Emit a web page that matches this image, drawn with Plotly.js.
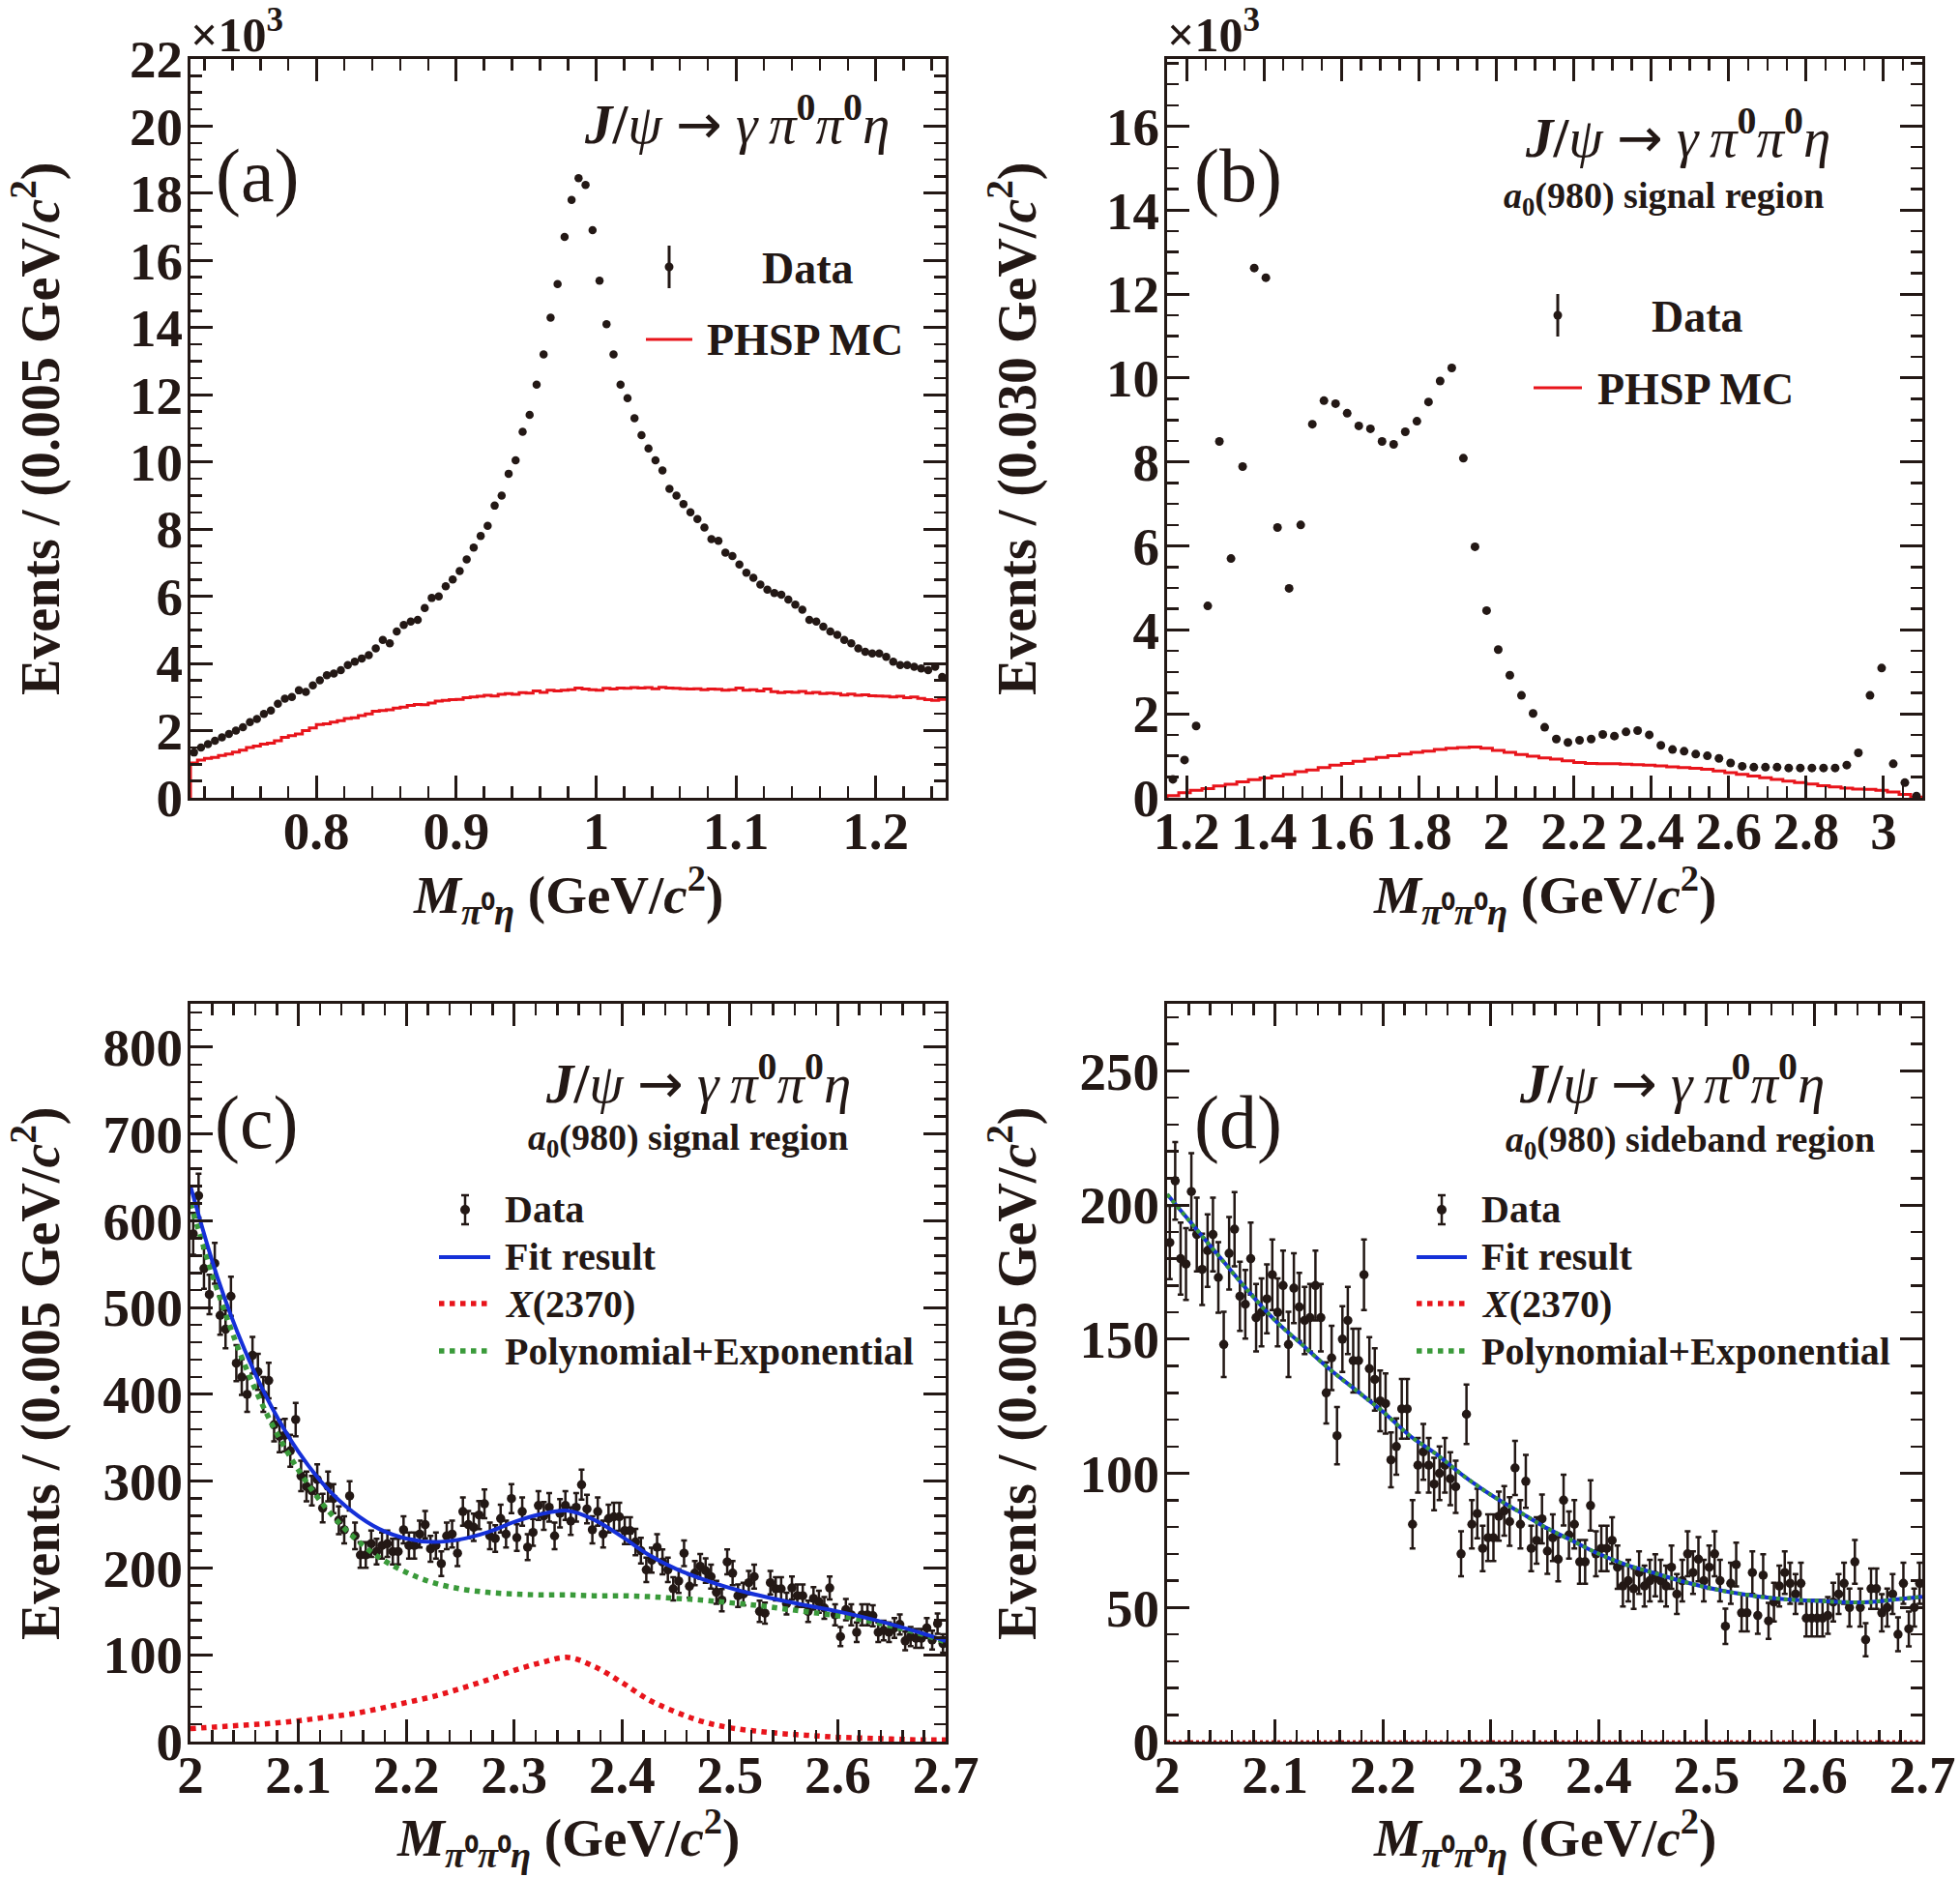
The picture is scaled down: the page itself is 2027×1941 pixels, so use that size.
<!DOCTYPE html>
<html><head><meta charset="utf-8">
<script src="https://cdn.plot.ly/plotly-3.0.1.min.js"></script>
<style>html,body{margin:0;padding:0;background:#fff}</style>
</head><body>
<div id="chart" style="width:2027px;height:1941px"></div>
<script>
// ---------------- DATA ----------------
// (a) M(pi0 eta), bins of 0.005 GeV starting at 0.71 ; values in units of 10^3
const aBinLo = 0.71, aBinW = 0.005;
const aData = [1.35,1.5,1.6,1.7,1.8,1.9,2.0,2.1,2.25,2.35,2.5,2.6,2.8,2.95,3.0,3.2,3.15,3.35,3.5,3.65,
  3.7,3.8,3.95,4.05,4.15,4.25,4.45,4.7,4.6,4.95,5.15,5.25,5.3,5.65,5.95,6.0,6.3,6.5,6.75,7.1,
  7.45,7.8,8.1,8.7,9.0,9.65,10.05,10.9,11.4,12.3,13.2,14.3,15.3,16.7,17.8,
  18.45,18.25,16.9,15.4,14.1,13.2,12.3,11.9,11.3,10.8,10.4,10.05,9.75,9.2,9.0,8.75,8.5,8.3,8.05,7.7,
  7.65,7.3,7.2,6.95,6.7,6.55,6.35,6.2,6.1,6.05,5.9,5.75,5.6,5.3,5.25,5.1,4.95,4.85,4.7,4.6,
  4.45,4.35,4.3,4.3,4.2,4.05,3.95,3.95,3.9,3.85,3.8,3.9,3.6];
const aPhsp = [1.04,1.12,1.17,1.2,1.26,1.3,1.36,1.42,1.5,1.54,1.6,1.63,1.7,1.8,1.85,1.9,2.0,2.08,2.18,2.2,
  2.25,2.3,2.36,2.38,2.45,2.5,2.58,2.6,2.62,2.67,2.7,2.75,2.78,2.77,2.82,2.88,2.9,2.92,2.93,2.98,
  3.0,3.02,3.05,3.03,3.08,3.1,3.08,3.13,3.12,3.18,3.14,3.2,3.18,3.2,3.22,3.27,3.24,3.22,3.2,3.26,
  3.24,3.27,3.26,3.28,3.27,3.28,3.25,3.29,3.27,3.26,3.25,3.24,3.25,3.22,3.24,3.23,3.2,3.22,3.27,3.2,
  3.22,3.18,3.24,3.16,3.13,3.15,3.14,3.17,3.12,3.14,3.1,3.12,3.1,3.06,3.09,3.05,3.07,3.04,3.03,3.02,
  3.0,3.02,2.98,3.0,2.96,2.92,2.9,2.93];
const aXTicks = [0.8,0.9,1.0,1.1,1.2];
const aYTicks = [0,2,4,6,8,10,12,14,16,18,20,22];

// (b) M(pi0 pi0 eta), bins of 0.030 GeV starting at 1.15 ; values in units of 10^3
const bBinLo = 1.15, bBinW = 0.03;
const bData = [0.44,0.9,1.71,4.57,8.49,5.7,7.89,12.62,12.39,6.44,4.99,6.5,8.9,9.46,9.39,9.16,8.86,8.79,8.49,8.42,
  8.72,8.97,9.43,9.93,10.24,8.09,5.98,4.46,3.53,2.92,2.44,2.01,1.68,1.4,1.32,1.37,1.4,1.51,1.47,1.57,
  1.6,1.5,1.25,1.15,1.11,1.04,1.0,0.94,0.83,0.75,0.73,0.73,0.73,0.71,0.71,0.71,0.71,0.71,0.78,1.07,
  2.44,3.09,0.81,0.36,0.04];
const bPhsp = [0.05,0.12,0.18,0.22,0.28,0.32,0.38,0.43,0.47,0.52,0.56,0.62,0.66,0.72,0.78,0.82,0.87,0.92,0.96,1.0,
  1.04,1.08,1.11,1.15,1.18,1.2,1.21,1.18,1.13,1.08,1.03,0.99,0.95,0.92,0.88,0.84,0.82,0.81,0.81,0.8,
  0.79,0.78,0.76,0.74,0.72,0.7,0.68,0.64,0.6,0.56,0.52,0.48,0.44,0.4,0.36,0.33,0.29,0.26,0.23,0.21,
  0.2,0.18,0.14,0.08,0.02];
const bXTicks = [1.2,1.4,1.6,1.8,2.0,2.2,2.4,2.6,2.8,3.0];
const bYTicks = [0,2,4,6,8,10,12,14,16];

// (c) signal region, bins of 0.005 GeV from 2.0
const cBinLo = 2.0, cBinW = 0.005;
const cData = [585,629,545,515,551,491,475,513,436,420,400,445,426,400,416,365,352,353,335,371,
  306,294,289,302,269,294,280,255,244,283,237,215,215,228,219,226,228,219,219,244,
  226,226,239,250,222,226,205,237,239,217,265,250,247,261,274,237,234,257,239,280,
  235,265,224,241,272,260,270,237,263,272,254,270,296,268,244,265,239,257,259,259,
  243,243,230,220,198,209,224,207,198,176,185,217,179,194,202,197,190,172,163,207,
  194,168,170,183,190,150,148,183,176,176,159,177,168,168,150,165,161,154,177,146,
  121,152,146,126,146,146,145,126,128,126,131,135,116,121,119,119,131,117,136,113];
// fit curves sampled every 0.025 GeV from 2.0 to 2.7
const curveX0 = 2.0, curveStep = 0.025;
const cFit = [640,535,452,386,334,294,265,245,234,230,233,241,253,262,266,255,236,215,199,187,177,169,162,156,150,143,135,126,116];
const cSig = [15,17,19,21,24,28,32,38,45,52,61,71,82,91,97,86,68,48,34,23,16,12,9,7,5,4,3,2,2];
const cBkg = [620,520,435,367,313,270,237,212,195,183,176,172,170,169,169,168,168,167,165,163,160,157,153,149,145,140,133,125,115];
const cXTicks = [2.0,2.1,2.2,2.3,2.4,2.5,2.6,2.7];
const cYTicks = [0,100,200,300,400,500,600,700,800];

// (d) sideband region, bins of 0.005 GeV from 2.0
const dData = [186,209,180,178,205,189,176,183,189,173,148,182,191,166,163,180,158,160,165,174,
  160,170,148,169,162,157,158,170,158,130,143,114,150,157,142,142,174,139,135,127,
  126,105,110,124,124,81,103,108,103,96,100,103,98,95,70,122,81,85,72,76,
  76,84,86,82,102,81,97,72,75,83,71,76,68,90,77,81,67,67,88,70,
  72,72,75,65,58,60,57,63,58,60,62,60,58,65,55,60,70,63,68,60,
  65,70,60,43,59,66,48,48,63,47,62,45,52,58,63,59,55,59,46,46,
  46,46,47,52,55,59,50,67,50,38,57,57,48,50,55,40,59,42,50,59];
const dFit = [204,192,180,168,157,148,139,131,123,114,107,99,92,86,80,75,70,66,63,60,57.5,55.5,54,53,52.5,52,52,53,54];
const dSig = [0,0,0,0,0,0,0,0,0,0,0,0,0,0,0,0,0,0,0,0,0,0,0,0,0,0,0,0,0];
const dBkg = [204,192,180,168,157,148,139,131,123,114,107,99,92,86,80,75,70,66,63,60,57.5,55.5,54,53,52.5,52,52,53,54];
const dXTicks = [2.0,2.1,2.2,2.3,2.4,2.5,2.6,2.7];
const dYTicks = [0,50,100,150,200,250];

// ---------------- HELPERS ----------------
const W = 2027, H = 1941;
const FONT = 'Liberation Serif, Times New Roman, serif';
const INK = '#231815';
const RED = '#e8141b', BLUE = '#1530d8', GREEN = '#3a9a3a';
const px = x => x / W;
const py = y => 1 - y / H;

function centers(lo, w, n){ const r=[]; for(let i=0;i<n;i++) r.push(lo + w*(i+0.5)); return r; }
function grid(x0, st, n){ const r=[]; for(let i=0;i<n;i++) r.push(+(x0 + st*i).toFixed(4)); return r; }
function steps(lo, w, vals){
  const xs=[lo], ys=[0];
  for(let i=0;i<vals.length;i++){ xs.push(lo + w*i); ys.push(vals[i]); }
  xs.push(lo + w*vals.length); ys.push(vals[vals.length-1]);
  return {xs, ys};
}

// frame boxes (pixels)
const FR = {
  a:{L:197,R:978,T:61,B:825}, b:{L:1207,R:1988,T:61,B:825},
  c:{L:197,R:978,T:1038,B:1801}, d:{L:1207,R:1988,T:1038,B:1801}
};

const tickFont = {family: FONT, size: 55, color: INK, weight: 'bold'};
function xAxis(f, range, tickvals, minorD, anchor){
  return {domain:[px(f.L), px(f.R)], range, anchor, tickvals,
    showline:true, linewidth:3, linecolor:INK, mirror:'allticks',
    ticks:'inside', ticklen:23, tickwidth:3, tickcolor:INK, ticklabelstandoff:-16,
    minor:{ticks:'inside', ticklen:12, tickwidth:2.5, tickcolor:INK, dtick:minorD, tick0:0, showgrid:false},
    showgrid:false, zeroline:false, tickfont:tickFont, fixedrange:true};
}
function yAxis(f, range, tickvals, minorD, anchor){
  return {domain:[py(f.B), py(f.T)], range, anchor, tickvals,
    showline:true, linewidth:3, linecolor:INK, mirror:'allticks',
    ticks:'inside', ticklen:23, tickwidth:3, tickcolor:INK, ticklabelstandoff:-6,
    minor:{ticks:'inside', ticklen:12, tickwidth:2.5, tickcolor:INK, dtick:minorD, tick0:0, showgrid:false},
    showgrid:false, zeroline:false, tickfont:tickFont, fixedrange:true};
}

// ---------------- TRACES ----------------
const traces = [];
const aS = steps(aBinLo, aBinW, aPhsp);
traces.push({x:aS.xs, y:aS.ys, xaxis:'x', yaxis:'y', mode:'lines', line:{shape:'hv', color:RED, width:3}});
traces.push({x:centers(aBinLo,aBinW,aData.length), y:aData, xaxis:'x', yaxis:'y', mode:'markers',
  marker:{color:INK, size:8.5}});

const bS = steps(bBinLo, bBinW, bPhsp);
traces.push({x:bS.xs, y:bS.ys, xaxis:'x2', yaxis:'y2', mode:'lines', line:{shape:'hv', color:RED, width:3}});
traces.push({x:centers(bBinLo,bBinW,bData.length), y:bData, xaxis:'x2', yaxis:'y2', mode:'markers',
  marker:{color:INK, size:9}, cliponaxis:false});

const cx = centers(cBinLo, cBinW, cData.length);
const gx = grid(curveX0, curveStep, cFit.length);
traces.push({x:cx, y:cData, xaxis:'x3', yaxis:'y3', mode:'markers', marker:{color:INK, size:9.5},
  error_y:{type:'sqrt', visible:true, color:INK, thickness:2.5, width:3}});
traces.push({x:gx, y:cBkg, xaxis:'x3', yaxis:'y3', mode:'lines', line:{shape:'spline', color:GREEN, width:5.5, dash:'dot'}});
traces.push({x:gx, y:cSig, xaxis:'x3', yaxis:'y3', mode:'lines', line:{shape:'spline', color:RED, width:5.5, dash:'dot'}});
traces.push({x:gx, y:cFit, xaxis:'x3', yaxis:'y3', mode:'lines', line:{shape:'spline', color:BLUE, width:4}});

const dx = centers(cBinLo, cBinW, dData.length);
traces.push({x:dx, y:dData, xaxis:'x4', yaxis:'y4', mode:'markers', marker:{color:INK, size:9.5},
  error_y:{type:'sqrt', visible:true, color:INK, thickness:2.5, width:3}});
traces.push({x:gx, y:dFit, xaxis:'x4', yaxis:'y4', mode:'lines', line:{shape:'spline', color:BLUE, width:4}});
traces.push({x:gx, y:dBkg, xaxis:'x4', yaxis:'y4', mode:'lines', line:{shape:'spline', color:GREEN, width:4, dash:'dot'}});
traces.push({x:gx, y:dSig, xaxis:'x4', yaxis:'y4', mode:'lines', line:{color:'#b01818', width:3, dash:'dot'}, cliponaxis:false});

// ---------------- ANNOTATIONS ----------------
const ann = [];
function T(text, x, y, size, opts){
  opts = opts || {};
  ann.push(Object.assign({xref:'paper', yref:'paper', x:px(x), y:py(y), text, showarrow:false,
    xanchor:'center', yanchor:'middle',
    font:{family:FONT, size, color:INK, weight: opts.weight || 'bold'}}, opts.extra || {}));
}
const NW = 'font-weight:normal';
const decay = '<i>J</i>/<span style="' + NW + '"><i>ψ</i></span> ' +
  '<span style="font-family:DejaVu Sans;font-weight:normal">→</span> ' +
  '<span style="' + NW + '"><i>γ</i>\u2009<i>π</i></span><sup>0</sup>' +
  '<span style="' + NW + '"><i>π</i></span><sup>0</sup><span style="' + NW + '"><i>η</i></span>';
const ytA = 'Events / (0.005 GeV/<i>c</i><sup>2</sup>)';
const ytB = 'Events / (0.030 GeV/<i>c</i><sup>2</sup>)';
const xt1 = '<i>M</i><sub><i>π</i>⁰<i>η</i></sub> (GeV/<i>c</i><sup>2</sup>)';
const xt2 = '<i>M</i><sub><i>π</i>⁰<i>π</i>⁰<i>η</i></sub> (GeV/<i>c</i><sup>2</sup>)';

// panel a
T('×10<sup>3</sup>', 195, 33, 50, {extra:{xanchor:'left'}});
T('(a)', 266, 181, 78, {weight:'normal'});
T(decay, 922, 125, 57, {extra:{xanchor:'right'}});
T('Data', 786, 278, 46, {extra:{xanchor:'left'}});
T('PHSP MC', 729, 351, 46, {extra:{xanchor:'left'}});
T(ytA, 38, 443, 56, {extra:{textangle:-90}});
T(xt1, 587, 925, 55);

// panel b
T('×10<sup>3</sup>', 1205, 33, 50, {extra:{xanchor:'left'}});
T('(b)', 1280, 181, 78, {weight:'normal'});
T(decay, 1895, 138, 57, {extra:{xanchor:'right'}});
T('<i>a</i><sub>0</sub>(980) signal region', 1720, 205, 38);
T('Data', 1706, 328, 46, {extra:{xanchor:'left'}});
T('PHSP MC', 1650, 402, 46, {extra:{xanchor:'left'}});
T(ytB, 1048, 443, 56, {extra:{textangle:-90}});
T(xt2, 1597, 925, 55);

// panel c
T('(c)', 265, 1160, 78, {weight:'normal'});
T(decay, 882, 1116, 57, {extra:{xanchor:'right'}});
T('<i>a</i><sub>0</sub>(980) signal region', 711, 1179, 38);
T('Data', 520, 1250, 40, {extra:{xanchor:'left'}});
T('Fit result', 520, 1299, 40, {extra:{xanchor:'left'}});
T('<i>X</i>(2370)', 520, 1348, 40, {extra:{xanchor:'left'}});
T('Polynomial+Exponential', 520, 1397, 40, {extra:{xanchor:'left'}});
T(ytA, 38, 1420, 56, {extra:{textangle:-90}});
T(xt2, 587, 1900, 55);

// panel d
T('(d)', 1280, 1160, 78, {weight:'normal'});
T(decay, 1889, 1116, 57, {extra:{xanchor:'right'}});
T('<i>a</i><sub>0</sub>(980) sideband region', 1748, 1181, 38);
T('Data', 1530, 1250, 40, {extra:{xanchor:'left'}});
T('Fit result', 1530, 1299, 40, {extra:{xanchor:'left'}});
T('<i>X</i>(2370)', 1530, 1348, 40, {extra:{xanchor:'left'}});
T('Polynomial+Exponential', 1530, 1397, 40, {extra:{xanchor:'left'}});
T(ytA, 1048, 1420, 56, {extra:{textangle:-90}});
T(xt2, 1597, 1900, 55);

// ---------------- LEGEND SYMBOLS (shapes) ----------------
const shapes = [];
function L(x0,y0,x1,y1,color,width,dash){
  shapes.push({type:'line', xref:'paper', yref:'paper', x0:px(x0), y0:py(y0), x1:px(x1), y1:py(y1),
    line:{color, width, dash: dash || 'solid'}});
}
function C(x,y,r){
  shapes.push({type:'circle', xref:'paper', yref:'paper', x0:px(x-r), x1:px(x+r), y0:py(y+r), y1:py(y-r),
    fillcolor:INK, line:{color:INK, width:0}});
}
// a
L(692,254,692,298,INK,3); C(692,276,4.5);
L(668,351,716,351,RED,3);
// b
L(1611,304,1611,348,INK,3); C(1611,326,4.5);
L(1586,401,1636,401,RED,3);
// c
L(481,1236,481,1266,INK,2.5); L(477,1236,485,1236,INK,2.5); L(477,1266,485,1266,INK,2.5); C(481,1251,5);
L(454,1300,507,1300,BLUE,4);
L(454,1348,507,1348,RED,5.5,'dot');
L(454,1397,507,1397,GREEN,5.5,'dot');
// d
L(1491,1236,1491,1266,INK,2.5); L(1487,1236,1495,1236,INK,2.5); L(1487,1266,1495,1266,INK,2.5); C(1491,1251,5);
L(1465,1300,1517,1300,BLUE,4);
L(1465,1348,1517,1348,RED,5.5,'dot');
L(1465,1397,1517,1397,GREEN,5.5,'dot');

// ---------------- LAYOUT ----------------
const layout = {
  width:W, height:H, margin:{l:0,r:0,t:0,b:0},
  paper_bgcolor:'#fff', plot_bgcolor:'#fff', showlegend:false, hovermode:false,
  xaxis: xAxis(FR.a, [0.71,1.25], aXTicks, 0.02, 'y'),
  yaxis: yAxis(FR.a, [0,22], aYTicks, 0.5, 'x'),
  xaxis2: xAxis(FR.b, [1.15,3.10], bXTicks, 0.05, 'y2'),
  yaxis2: yAxis(FR.b, [0,17.6], bYTicks, 0.5, 'x2'),
  xaxis3: xAxis(FR.c, [2.0,2.7], cXTicks, 0.02, 'y3'),
  yaxis3: yAxis(FR.c, [0,850], cYTicks, 20, 'x3'),
  xaxis4: xAxis(FR.d, [2.0,2.7], dXTicks, 0.02, 'y4'),
  yaxis4: yAxis(FR.d, [0,275], dYTicks, 10, 'x4'),
  annotations: ann, shapes
};
Plotly.newPlot('chart', traces, layout, {staticPlot:true, displayModeBar:false});
</script>
</body></html>
